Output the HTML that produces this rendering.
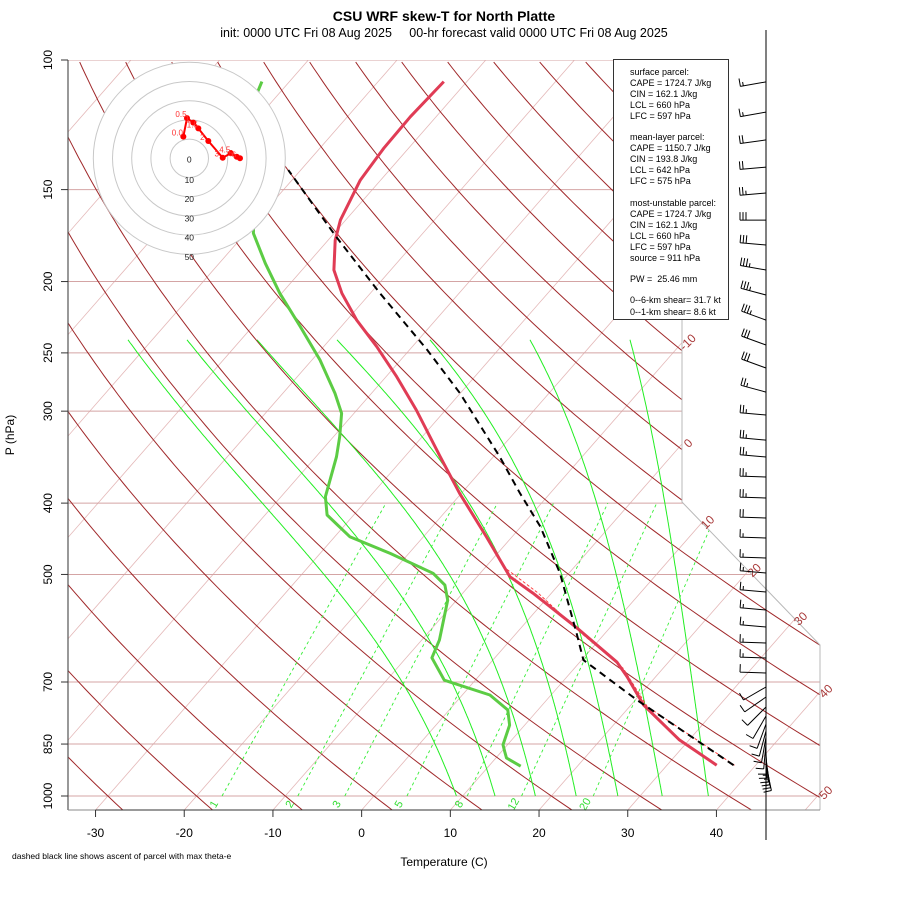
<!DOCTYPE html>
<html><head><meta charset="utf-8"><style>
html,body{margin:0;padding:0;background:#fff;}
svg{display:block;font-family:"Liberation Sans",sans-serif;}
</style></head><body>
<svg id="chart" width="900" height="900" viewBox="0 0 900 900" xmlns="http://www.w3.org/2000/svg">
<defs><clipPath id="pc"><polygon points="68,60 682,60 682,502 820,645 820,810 68,810"/></clipPath></defs>
<text x="444" y="21" text-anchor="middle" font-size="14" font-weight="bold">CSU WRF skew-T for North Platte</text>
<text x="444" y="37" text-anchor="middle" font-size="12.5">init: 0000 UTC Fri 08 Aug 2025&#160;&#160;&#160;&#160;&#160;00-hr forecast valid 0000 UTC Fri 08 Aug 2025</text>
<g id="bg" clip-path="url(#pc)"></g>
<g id="fg"></g>
<text transform="translate(14,435) rotate(-90)" text-anchor="middle" font-size="12">P (hPa)</text>
<text x="444" y="866" text-anchor="middle" font-size="12">Temperature (C)</text>
<text x="12" y="859" font-size="8.5">dashed black line shows ascent of parcel with max theta-e</text>
<g font-size="9">
<rect x="613.5" y="59.5" width="115" height="260" fill="#fff" stroke="#333"/>
<text x="630" y="75">surface parcel:</text>
<text x="630" y="86">CAPE = 1724.7 J/kg</text>
<text x="630" y="97">CIN = 162.1 J/kg</text>
<text x="630" y="108">LCL = 660 hPa</text>
<text x="630" y="119">LFC = 597 hPa</text>
<text x="630" y="140">mean-layer parcel:</text>
<text x="630" y="151">CAPE = 1150.7 J/kg</text>
<text x="630" y="162">CIN = 193.8 J/kg</text>
<text x="630" y="173">LCL = 642 hPa</text>
<text x="630" y="184">LFC = 575 hPa</text>
<text x="630" y="206">most-unstable parcel:</text>
<text x="630" y="217">CAPE = 1724.7 J/kg</text>
<text x="630" y="228">CIN = 162.1 J/kg</text>
<text x="630" y="239">LCL = 660 hPa</text>
<text x="630" y="250">LFC = 597 hPa</text>
<text x="630" y="261">source = 911 hPa</text>
<text x="630" y="282">PW =&#160;&#160;25.46 mm</text>
<text x="630" y="303">0--6-km shear= 31.7 kt</text>
<text x="630" y="315">0--1-km shear= 8.6 kt</text>
</g>
</svg>
<script>
const pTicks=[100,150,200,250,300,400,500,700,850,1000];
const xTicks=[-30,-20,-10,0,10,20,30,40];
const isoLabels=[-10,0,10,20,30,40,50];
const mixRatios=[1,2,3,5,8,12,20];
const tempP=[908,839,752,689,658,591,530,503.6,444.3,387.9,345.9,298.9,269.3,245.2,225.6,207.5,192.9,175.7,165,145.6,131.8,119.4,107];
const tempT=[35.6,28.9,21.4,16.8,14.2,6.3,-2.1,-6.3,-12.9,-20.2,-26.0,-33.3,-38.8,-44.0,-48.9,-53.2,-56.4,-59.2,-60.6,-62.3,-62.8,-62.9,-62.6];
const dewP=[911,888,871,852,801,764,729,696,649,614,542,517,498.2,468.1,444.3,415.2,392,345.9,325,302,283.8,255.6,230.3,207.5,188.9,172,111,107];
const dewT=[13.6,11.2,10.4,9.5,8.3,6.6,3.1,-3.5,-7.1,-8.0,-11.0,-12.8,-15.3,-22.1,-28.3,-33.0,-35.0,-37.7,-39.3,-41.4,-44.1,-49.1,-54.6,-60.2,-64.8,-69.1,-82.5,-83.1];
const parcelP=[908,740.7,653.4,601.1,498.2,430.6,387.9,345.9,283.8,247.7,207.5,173.9,141.1];
const parcelT=[37.5,20.2,10.2,6.8,-1.0,-7.8,-13.4,-19.3,-30.0,-38.0,-48.9,-59.4,-71.4];
const vparP=[908,756,670.6,600,530,490];
const vparT=[37.6,22.0,15.5,7.2,-1.5,-7.7];
const barbP=[107.1,117.7,128.4,139.8,151.6,165,178.4,192.9,208.6,225.6,243.9,262.1,282.6,303.6,328.4,346.3,368.6,393.6,419.1,446.1,475,497.7,528.3,558.8,589.3,619.6,649.3,680.5,711,733.7,756.9,778.5,798.3,816,831.6,847.2,860.9,871.7,882.7,890.9,899.4,907.9];
const barbSpd=[15,15,20,20,25,30,30,35,35,35,30,30,25,25,25,25,25,25,20,15,15,15,15,15,15,15,15,10,10,10,10,10,10,10,10,10,10,15,15,15,15,10];
const barbDir=[260,260,262,265,265,270,275,280,285,290,290,290,285,275,275,275,272,272,272,272,272,275,275,275,275,272,272,272,240,235,225,210,200,195,190,185,180,178,175,172,170,168];
const hodoU=[-3.1,-1.2,2.1,4.7,9.9,17.4,21.6,24.7,26.4];
const hodoV=[11.3,20.9,18.6,15.6,9.0,0.3,2.6,0.8,0.0];
const hodoLab=["0.0","0.5","1","1.5","2","3","4.5","5","6"];

const NS='http://www.w3.org/2000/svg';
function Y(p){return 60+736*Math.log10(p/100);}
function X(T,p){return 361.7+8.87*T+0.875*(810-Y(p));}
function mk(tag,attrs,parent){const e=document.createElementNS(NS,tag);for(const k in attrs)e.setAttribute(k,attrs[k]);parent.appendChild(e);return e;}
const bg=document.getElementById('bg'), fg=document.getElementById('fg');
function pathFrom(ps,ts){return ps.map((p,i)=>(i?'L':'M')+X(ts[i],p).toFixed(1)+','+Y(p).toFixed(1)).join(' ');}
function esat(t){return 6.112*Math.exp(17.67*t/(t+243.5));}

// isotherms
for(let T=-120;T<=50;T+=10){
  const l=mk('line',{x1:361.7+8.87*T,y1:810,x2:361.7+8.87*T+0.875*750,y2:60,stroke:'#e4b8b8','stroke-width':0.8},bg);
  
  
}
// pressure lines
pTicks.forEach(p=>{
  const l=mk('line',{x1:68,y1:Y(p),x2:820,y2:Y(p),stroke:'#d4a4a4','stroke-width':1},bg);
  
  
});
// dry adiabats
for(let th=-30;th<=200;th+=10){
  let d='';
  for(let lp=Math.log(1045);lp>=Math.log(100)-1e-9;lp-=0.02){
    const p=Math.exp(lp);const T=(th+273.15)*Math.pow(p/1000,0.286)-273.15;
    d+=(d?'L':'M')+X(T,p).toFixed(1)+','+Y(p).toFixed(1);
  }
  const e=mk('path',{d:d,fill:'none',stroke:'#a0282a','stroke-width':1},bg);
  
  
}
// moist adiabats (shape from integration, adjusted to reference top positions)
const maStart=[9.3,13.65,18.2,22.8,27.5,32.5,37.7];
const maTopX=[128,187,257,337,430,530,630];
maStart.forEach((t0,j)=>{
  let T=t0+273.15; const pts=[];
  for(let p=1000;p>=240;p-=2){
    pts.push([p,X(T-273.15,p)]);
    const es=esat(T-273.15), rs=0.622*es/(p-es);
    const dTdp=(287*T+2.5e6*rs)/(p*(1005+2.5e6*2.5e6*rs*0.622/(287*T*T)));
    T-=dTdp*2;
  }
  const topErr=maTopX[j]-pts[pts.length-1][1];
  const L0=Math.log(1000),L1=Math.log(240);
  const d=pts.map((q,i)=>{const f=(L0-Math.log(q[0]))/(L0-L1);return (i?'L':'M')+(q[1]+topErr*f).toFixed(1)+','+Y(q[0]).toFixed(1);}).join('');
  const e=mk('path',{d:d,fill:'none',stroke:'#22ee22','stroke-width':1},bg);
  
  
});
// mixing ratio lines
function tdFromW(w,p){const e=w*p/(622+w);const l=Math.log(e/6.112);return 243.5*l/(17.67-l);}
mixRatios.forEach(w=>{
  const e=mk('line',{x1:X(tdFromW(w,1000),1000),y1:Y(1000),x2:X(tdFromW(w,400),400),y2:Y(400),stroke:'#33ee33','stroke-width':0.9,'stroke-dasharray':'3,3'},bg);
  
  
  const t=mk('text',{x:0,y:0,'font-size':11,fill:'#33dd33','text-anchor':'middle',transform:'translate('+(X(tdFromW(w,1000),1000)-5)+',806) rotate(-60)'},fg);
  t.textContent=w;
  
  
});
// boundary
const bd=mk('polyline',{points:'682,60 682,502 820,645 820,810',fill:'none',stroke:'#b8b8b8','stroke-width':1},fg);


const ya=mk('line',{x1:68,y1:60,x2:68,y2:810,stroke:'#555','stroke-width':1.2},fg);


const xb=mk('line',{x1:68,y1:810,x2:820,y2:810,stroke:'#888','stroke-width':1},fg);


const xa=mk('line',{x1:X(xTicks[0],1045),y1:810,x2:X(xTicks[xTicks.length-1],1045),y2:810,stroke:'#333','stroke-width':1},fg);


// isotherm labels
isoLabels.forEach(T=>{
  let best=null;
  for(let y=60;y<=810;y+=0.5){const x=361.7+8.87*T+0.875*(810-y);
    let xr= y<=502?682:(y<=645?682+(y-502)*(138/143):820);
    if(x<=xr){best=[x,y];break;}}
  if(!best)return;
  const t=mk('text',{transform:'translate('+(best[0]+9)+','+(best[1]+2)+') rotate(-45)','font-size':12,fill:'#a83838','text-anchor':'middle'},fg);
  t.textContent=T;
  
  
});
// ticks
pTicks.forEach(p=>{
  const l=mk('line',{x1:61,y1:Y(p),x2:68,y2:Y(p),stroke:'#333'},fg);
  
  
  const t=mk('text',{transform:'translate(52,'+Y(p)+') rotate(-90)','font-size':12,'text-anchor':'middle'},fg);
  t.textContent=p;
  
  
});
xTicks.forEach(T=>{
  const x=X(T,1045);
  const l=mk('line',{x1:x,y1:810,x2:x,y2:817,stroke:'#333'},fg);
  
  
  const t=mk('text',{x:x,y:837,'font-size':12,'text-anchor':'middle'},fg);
  t.textContent=T;
  
  
});
// profiles
let e;
e=mk('path',{d:pathFrom(vparP,vparT),fill:'none',stroke:'#ff3030','stroke-width':0.9,'stroke-dasharray':'3,2'},fg);


e=mk('path',{d:pathFrom(dewP,dewT),fill:'none',stroke:'#5ccc44','stroke-width':3,'stroke-linejoin':'round'},fg);


e=mk('path',{d:pathFrom(tempP,tempT),fill:'none',stroke:'#e03c55','stroke-width':3,'stroke-linejoin':'round'},fg);


e=mk('path',{d:pathFrom(parcelP,parcelT),fill:'none',stroke:'#000','stroke-width':2,'stroke-dasharray':'7,5'},fg);


// hodograph
const hx=189.3,hy=158.3,hs=1.92;
const hg=mk('g',{},fg);


for(let k=5;k>=1;k--){
  const c=mk('circle',{cx:hx,cy:hy,r:19.2*k,fill:k==5?'#fff':'none',stroke:'#c8c8c8','stroke-width':1},hg);
  
  
}
for(let k=0;k<=5;k++){
  const t=mk('text',{x:hx,y:hy+19.2*k+(k?5.5:4),'font-size':8.5,'text-anchor':'middle',fill:'#222'},hg);
  t.textContent=k*10;
  
  
}
e=mk('path',{d:hodoU.map((u,i)=>(i?'L':'M')+(hx+u*hs)+','+(hy-hodoV[i]*hs)).join(' '),fill:'none',stroke:'#ff0000','stroke-width':2},hg);


hodoU.forEach((u,i)=>{
  const c=mk('circle',{cx:hx+u*hs,cy:hy-hodoV[i]*hs,r:3,fill:'#ff0000'},hg);
  
  
  const t=mk('text',{x:hx+u*hs-6,y:hy-hodoV[i]*hs-1,'font-size':8,'text-anchor':'middle',fill:'#ff3030'},hg);
  t.textContent=hodoLab[i];
  
  
});
// wind barbs
const sx0=766;
const st=mk('line',{x1:sx0,y1:30,x2:sx0,y2:840,stroke:'#000','stroke-width':1},fg);


barbP.forEach((p,i)=>{
  const y=Y(p), a=barbDir[i]*Math.PI/180, L=26;
  const ux=Math.sin(a), uy=-Math.cos(a);
  const tx=sx0+ux*L, ty=y+uy*L;
  const fxv=-uy, fyv=ux;
  let d='M'+sx0+','+y.toFixed(1)+'L'+tx.toFixed(1)+','+ty.toFixed(1);
  let s=barbSpd[i], pos=0;
  const full=Math.floor(s/10), half=(s%10)>=5?1:0;
  for(let k=0;k<full;k++){const bx=tx-ux*pos*3, by=ty-uy*pos*3;d+='M'+bx.toFixed(1)+','+by.toFixed(1)+'l'+(fxv*8).toFixed(1)+','+(fyv*8).toFixed(1);pos++;}
  if(half){if(pos==0)pos=1;const bx=tx-ux*pos*3, by=ty-uy*pos*3;d+='M'+bx.toFixed(1)+','+by.toFixed(1)+'l'+(fxv*4).toFixed(1)+','+(fyv*4).toFixed(1);}
  const b=mk('path',{d:d,fill:'none',stroke:'#000','stroke-width':1},fg);
  
  
});
</script>
</body></html>
